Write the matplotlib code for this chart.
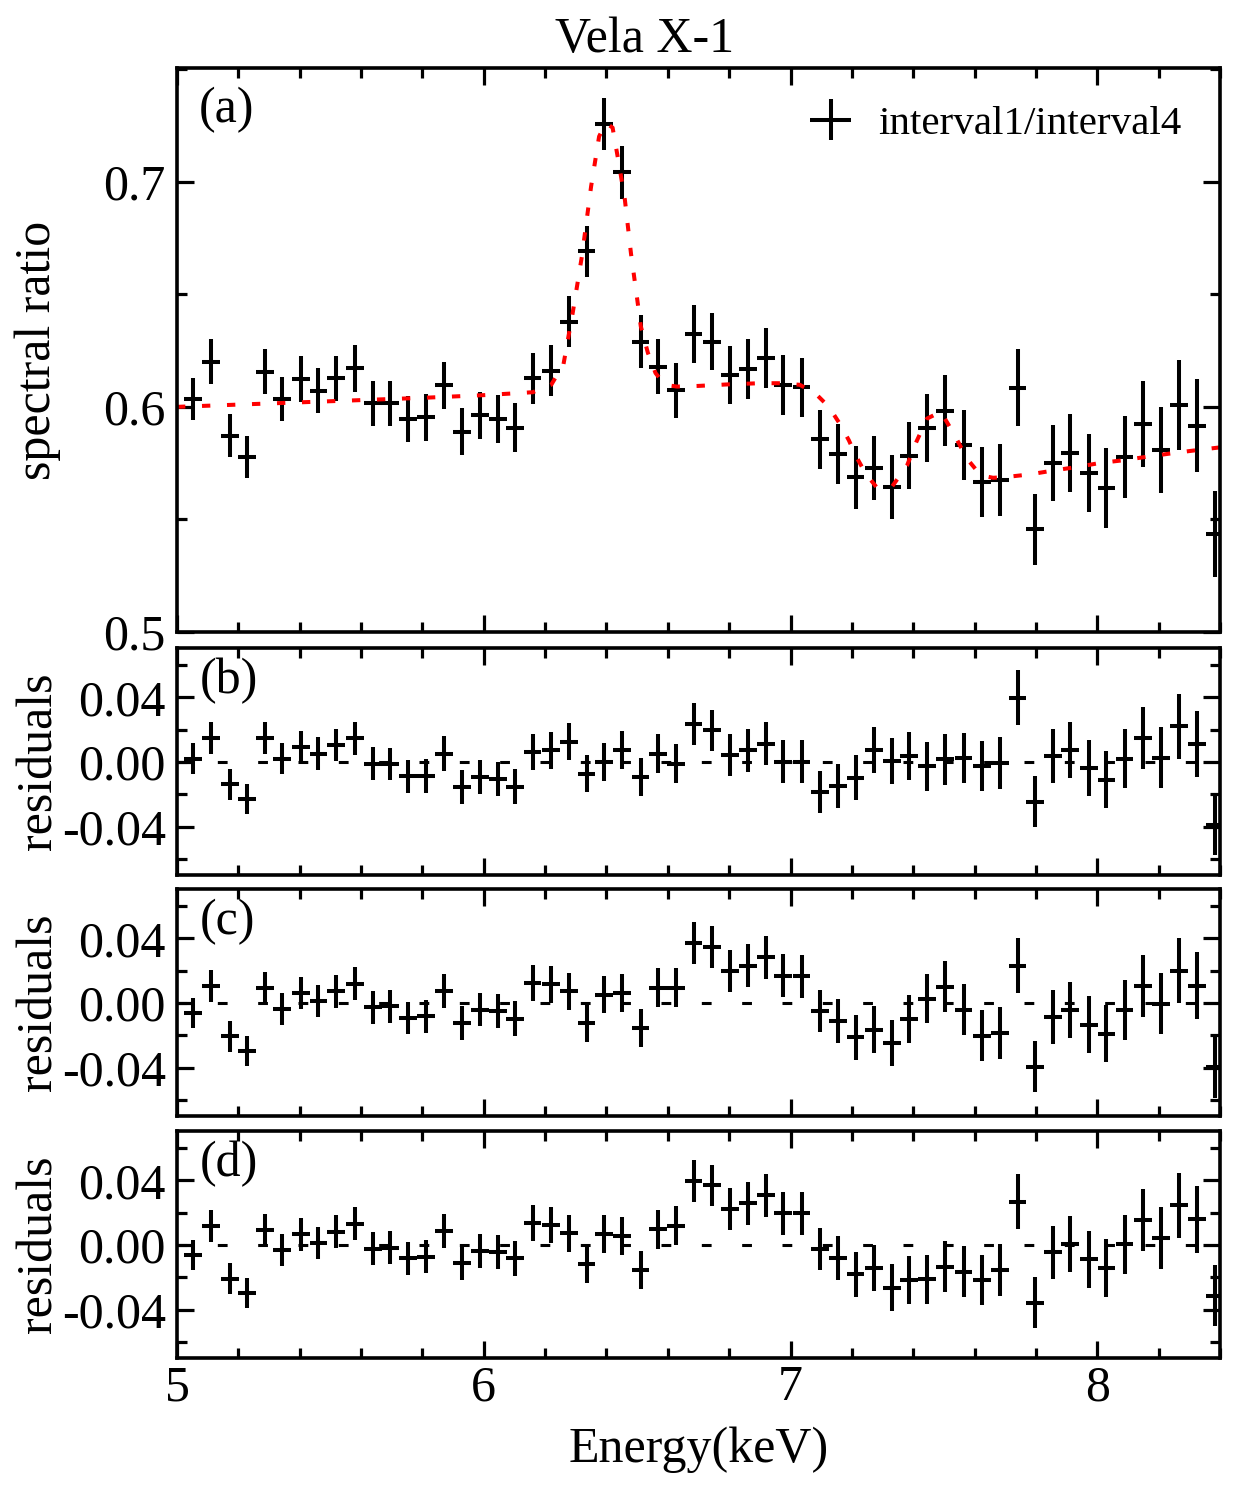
import matplotlib
matplotlib.use("Agg")
import matplotlib.pyplot as plt
from matplotlib.ticker import MultipleLocator, FixedLocator, FixedFormatter

plt.rcParams['font.family'] = ['Liberation Serif', 'DejaVu Serif']

# ---------------- data ----------------
energy = [5.052, 5.112, 5.172, 5.227, 5.286, 5.343, 5.403, 5.461, 5.519, 5.579,
          5.638, 5.695, 5.753, 5.812, 5.871, 5.928, 5.988, 6.047, 6.102, 6.159,
          6.219, 6.278, 6.335, 6.393, 6.451, 6.511, 6.569, 6.627, 6.684, 6.744,
          6.803, 6.862, 6.920, 6.976, 7.036, 7.096, 7.154, 7.212, 7.272, 7.330,
          7.387, 7.446, 7.504, 7.564, 7.624, 7.682, 7.740, 7.797, 7.856, 7.912,
          7.972, 8.030, 8.089, 8.148, 8.207, 8.266, 8.325, 8.384]
bin_half = 0.029

ratio = [0.6034, 0.6201, 0.5872, 0.5779, 0.6157, 0.6034, 0.6123, 0.6071, 0.6127, 0.6172,
         0.6016, 0.6016, 0.5947, 0.5954, 0.6095, 0.5890, 0.5963, 0.5947, 0.5907, 0.6126,
         0.6160, 0.6379, 0.6690, 0.7256, 0.7041, 0.6290, 0.6179, 0.6073, 0.6323, 0.6290,
         0.6141, 0.6168, 0.6216, 0.6098, 0.6086, 0.5857, 0.5791, 0.5688, 0.5728, 0.5644,
         0.5782, 0.5907, 0.5982, 0.5831, 0.5666, 0.5676, 0.6085, 0.5456, 0.5751, 0.5795,
         0.5706, 0.5639, 0.5777, 0.5924, 0.5810, 0.6009, 0.5916, 0.5436]

ratio_err = [0.0094, 0.0099, 0.0095, 0.0093, 0.0099, 0.0097, 0.0101, 0.0100, 0.0101, 0.0104,
             0.0101, 0.0101, 0.0101, 0.0104, 0.0106, 0.0105, 0.0105, 0.0106, 0.0108, 0.0113,
             0.0113, 0.0114, 0.0115, 0.0117, 0.0119, 0.0117, 0.0121, 0.0121, 0.0130, 0.0128,
             0.0130, 0.0133, 0.0133, 0.0133, 0.0133, 0.0131, 0.0135, 0.0140, 0.0143, 0.0143,
             0.0149, 0.0151, 0.0158, 0.0156, 0.0156, 0.0161, 0.0172, 0.0158, 0.0167, 0.0174,
             0.0175, 0.0178, 0.0184, 0.0191, 0.0191, 0.0200, 0.0207, 0.0190]

model_energy = [5.00, 5.20, 5.40, 5.60, 5.80, 6.00, 6.10, 6.16, 6.22, 6.26,
                6.29, 6.32, 6.35, 6.376, 6.398, 6.42, 6.442, 6.46, 6.48, 6.50,
                6.512, 6.535, 6.56, 6.59, 6.63, 6.70, 6.80, 6.90, 6.96, 7.03,
                7.08, 7.125, 7.16, 7.19, 7.215, 7.245, 7.28, 7.33, 7.38, 7.41,
                7.445, 7.49, 7.535, 7.575, 7.62, 7.66, 7.70, 7.78, 7.86, 7.93,
                8.01, 8.08, 8.17, 8.25, 8.32, 8.40]
model_ratio = [0.6000, 0.6010, 0.6020, 0.6030, 0.6040, 0.6052, 0.6060, 0.6065, 0.6098, 0.6190,
               0.6418, 0.6670, 0.6980, 0.7201, 0.7261, 0.7240, 0.7068, 0.6920, 0.6680, 0.6480,
               0.6357, 0.6240, 0.6150, 0.6098, 0.6090, 0.6093, 0.6100, 0.6105, 0.6105, 0.6098,
               0.6061, 0.6000, 0.5926, 0.5852, 0.5777, 0.5703, 0.5644, 0.5644, 0.5740, 0.5844,
               0.5948, 0.5978, 0.5874, 0.5770, 0.5696, 0.5685, 0.5688, 0.5700, 0.5718, 0.5732,
               0.5751, 0.5762, 0.5780, 0.5795, 0.5807, 0.5820]

resid_b = [0.0021, 0.0151, -0.0139, -0.0232, 0.0145, 0.0021, 0.0093, 0.0052, 0.0104, 0.0145,
           -0.0010, -0.0014, -0.0089, -0.0089, 0.0052, -0.0155, -0.0093, -0.0104, -0.0155, 0.0062,
           0.0072, 0.0124, -0.0072, 0.0000, 0.0072, -0.0093, 0.0052, -0.0010, 0.0237, 0.0196,
           0.0045, 0.0072, 0.0113, 0.0000, 0.0000, -0.0186, -0.0151, -0.0097, 0.0076, 0.0006,
           0.0037, -0.0027, 0.0016, 0.0025, -0.0025, -0.0006, 0.0398, -0.0247, 0.0037, 0.0072,
           -0.0037, -0.0109, 0.0021, 0.0148, 0.0027, 0.0221, 0.0111, -0.0388]

resid_c = [-0.0062, 0.0104, -0.0207, -0.0296, 0.0093, -0.0037, 0.0062, 0.0010, 0.0072, 0.0120,
           -0.0027, -0.0021, -0.0093, -0.0083, 0.0072, -0.0124, -0.0041, -0.0052, -0.0097, 0.0124,
           0.0114, 0.0072, -0.0124, 0.0052, 0.0062, -0.0155, 0.0093, 0.0093, 0.0371, 0.0346,
           0.0200, 0.0231, 0.0282, 0.0169, 0.0165, -0.0052, -0.0113, -0.0212, -0.0165, -0.0247,
           -0.0097, 0.0027, 0.0099, -0.0041, -0.0202, -0.0186, 0.0231, -0.0396, -0.0089, -0.0045,
           -0.0134, -0.0190, -0.0045, 0.0103, -0.0004, 0.0200, 0.0107, -0.0398]

resid_d = [-0.0064, 0.0118, -0.0209, -0.0296, 0.0093, -0.0031, 0.0066, 0.0010, 0.0081, 0.0132,
           -0.0023, -0.0017, -0.0083, -0.0072, 0.0087, -0.0114, -0.0037, -0.0043, -0.0083, 0.0135,
           0.0122, 0.0072, -0.0120, 0.0066, 0.0056, -0.0155, 0.0097, 0.0118, 0.0396, 0.0369,
           0.0221, 0.0258, 0.0307, 0.0196, 0.0196, -0.0027, -0.0082, -0.0181, -0.0144, -0.0264,
           -0.0219, -0.0212, -0.0134, -0.0165, -0.0219, -0.0157, 0.0268, -0.0357, -0.0047, 0.0004,
           -0.0089, -0.0144, 0.0004, 0.0153, 0.0041, 0.0245, 0.0159, -0.0315]

panel_labels = ['(a)', '(b)', '(c)', '(d)']
x_ticks = [5, 6, 7, 8]
x_ticklabels = ['5', '6', '7', '8']
a_ticks = [0.5, 0.6, 0.7]
a_ticklabels = ['0.5', '0.6', '0.7']
r_ticks = [-0.04, 0.0, 0.04]
r_ticklabels = ['-0.04', '0.00', '0.04']

# ---------------- figure ----------------
W, H = 1235, 1486
fig = plt.figure(figsize=(W / 100, H / 100), dpi=100)

left, right = 177 / W, 1220 / W
def box(top_px, bot_px):
    return [left, 1 - bot_px / H, right - left, (bot_px - top_px) / H]

ax_a = fig.add_axes(box(68, 632))
ax_b = fig.add_axes(box(648, 875))
ax_c = fig.add_axes(box(889, 1116))
ax_d = fig.add_axes(box(1131, 1358))
axes = [ax_a, ax_b, ax_c, ax_d]

FS = 36
ELW = 2.9

for ax in axes:
    ax.set_xlim(5.0, 8.4)
    for sp in ax.spines.values():
        sp.set_linewidth(2.6)
    ax.xaxis.set_major_locator(FixedLocator(x_ticks))
    ax.xaxis.set_minor_locator(MultipleLocator(0.2))
    ax.tick_params(which='both', direction='in', top=True, right=True, width=2.3)
    ax.tick_params(which='major', length=12.5, labelsize=FS, pad=8)
    ax.tick_params(which='minor', length=7)
    ax.tick_params(axis='x', which='major', pad=5)

# panel (a)
ax_a.errorbar(energy, ratio, xerr=bin_half, yerr=ratio_err, fmt='none',
              ecolor='black', elinewidth=ELW, capsize=0, label='interval1/interval4')
ax_a.plot(model_energy, model_ratio, color='red', lw=2.9,
          linestyle=(0, (2.07, 4.14)))
ax_a.set_ylim(0.5, 0.7505)
ax_a.yaxis.set_major_locator(FixedLocator(a_ticks))
ax_a.yaxis.set_major_formatter(FixedFormatter(a_ticklabels))
ax_a.yaxis.set_minor_locator(MultipleLocator(0.05))
ax_a.tick_params(axis='x', labelbottom=False)
leg = ax_a.legend(loc='center left', bbox_to_anchor=(0.607, 0.9), frameon=False,
                  fontsize=29.5, handlelength=1.0, handletextpad=0.66,
                  borderpad=0, borderaxespad=0)

# residual panels
for ax, res in zip([ax_b, ax_c, ax_d], [resid_b, resid_c, resid_d]):
    ax.errorbar(energy, res, xerr=bin_half, yerr=ratio_err, fmt='none',
                ecolor='black', elinewidth=ELW, capsize=0)
    ax.axhline(0.0, color='black', lw=2.2, linestyle=(0, (3.2, 10.0)))
    ax.set_ylim(-0.07, 0.0705)
    ax.yaxis.set_major_locator(FixedLocator(r_ticks))
    ax.yaxis.set_major_formatter(FixedFormatter(r_ticklabels))
    ax.yaxis.set_minor_locator(MultipleLocator(0.02))

ax_b.tick_params(axis='x', labelbottom=False)
ax_c.tick_params(axis='x', labelbottom=False)
ax_d.xaxis.set_major_formatter(FixedFormatter(x_ticklabels))

# panel labels
ax_a.text(0.021, 0.904, panel_labels[0], transform=ax_a.transAxes,
          fontsize=FS, ha='left', va='baseline')
for ax, lab in zip([ax_b, ax_c, ax_d], panel_labels[1:]):
    ax.text(0.022, 0.80, lab, transform=ax.transAxes,
            fontsize=FS, ha='left', va='baseline')

# axis titles
fig.text(38 / W, 1 - 350 / H, 'spectral ratio', rotation=90,
         ha='center', va='center', fontsize=FS)
for top_px, bot_px in [(648, 875), (889, 1116), (1131, 1358)]:
    fig.text(39 / W, 1 - (top_px + bot_px) / 2 / H, 'residuals', rotation=90,
             ha='center', va='center', fontsize=FS)
fig.text(698.5 / W, 1 - 1462 / H, 'Energy(keV)', ha='center', va='baseline',
         fontsize=FS)
fig.text(645 / W, 1 - 52 / H, 'Vela X-1', ha='center', va='baseline', fontsize=FS)

fig.savefig('out.png', dpi=100)
